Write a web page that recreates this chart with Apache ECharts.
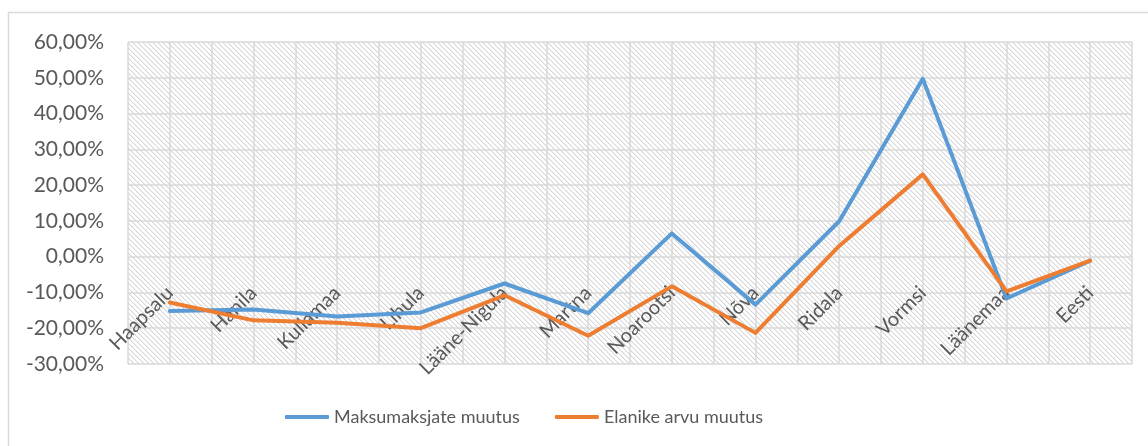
<!DOCTYPE html>
<html>
<head>
<meta charset="utf-8">
<script src="https://cdn.jsdelivr.net/npm/echarts@6/dist/echarts.min.js"></script>
<style>
html,body{margin:0;padding:0;background:#fff;}
#chart{width:1148px;height:446px;}
</style>
</head>
<body>
<div id="chart"></div>
<script>
var categories = ['Haapsalu','Hanila','Kullamaa','Lihula','Lääne-Nigula','Martna','Noarootsi','Nõva','Ridala','Vormsi','Läänemaa','Eesti'];
var maksumaksjad = [-15.2,-14.8,-16.7,-15.6,-7.5,-15.8,6.5,-13.4,9.9,49.7,-11.7,-1.1];
var elanikud = [-12.8,-17.8,-18.5,-20.0,-10.8,-22.1,-8.3,-21.3,3.0,23.0,-9.7,-1.1];
var seriesNames = ['Maksumaksjate muutus','Elanike arvu muutus'];
var yMin = -30, yMax = 60, yStep = 10;

// hatched pattern tile
var tile = document.createElement('canvas');
tile.width = 5; tile.height = 5;
var tc = tile.getContext('2d');
tc.fillStyle = '#ffffff';
tc.fillRect(0,0,5,5);
for (var i = 0; i < 5; i++) {
  tc.fillStyle = '#d6d6d6';
  tc.fillRect(i, i, 1, 1);
  tc.fillStyle = '#eeeeee';
  tc.fillRect((i+1)%5, i, 1, 1);
}

var font = 'Lato';
var textColor = '#595959';
var gridColor = '#d9d9d9';
var plotTop = 42, plotBottom = 364;
var zeroOffset = -(plotBottom - (plotTop + (plotBottom - plotTop) * (yMax - 0) / (yMax - yMin)));

var chart = echarts.init(document.getElementById('chart'), null, {renderer:'canvas'});
chart.setOption({
  animation: false,
  backgroundColor: '#ffffff',
  textStyle: {fontFamily: font},
  graphic: [{
    type: 'rect',
    shape: {x: 8.5, y: 12.5, width: 1300, height: 600},
    style: {fill: 'none', stroke: '#d9d9d9', lineWidth: 1.5},
    silent: true,
    z: -10
  }],
  grid: {
    left: 128, right: 16, top: plotTop, bottom: 446 - plotBottom,
    outerBoundsMode: 'none',
    containLabel: false,
    show: true,
    backgroundColor: {image: tile, repeat: 'repeat'},
    borderWidth: 0
  },
  legend: {
    data: seriesNames,
    left: 280, top: 403,
    icon: 'roundRect',
    itemWidth: 44, itemHeight: 4,
    itemGap: 35,
    textStyle: {fontFamily: font, fontSize: 18, color: textColor}
  },
  xAxis: [{
    type: 'category',
    data: categories,
    boundaryGap: true,
    offset: zeroOffset,
    axisLine: {show: false, onZero: false},
    axisTick: {show: false},
    splitLine: {show: false},
    axisLabel: {
      interval: 0, rotate: 45, margin: 33,
      fontFamily: font, fontSize: 20, color: textColor
    }
  }, {
    type: 'value',
    min: 0, max: 24, interval: 1,
    position: 'top',
    axisLine: {show: false}, axisTick: {show: false}, axisLabel: {show: false},
    splitLine: {show: true, lineStyle: {color: gridColor, width: 1.5}}
  }],
  yAxis: {
    type: 'value',
    min: yMin, max: yMax, interval: yStep,
    axisLine: {show: false},
    axisTick: {show: false},
    splitLine: {show: true, lineStyle: {color: gridColor, width: 1.5}},
    axisLabel: {
      margin: 24,
      fontFamily: font, fontSize: 21, color: textColor,
      formatter: function (v) { return v.toFixed(2).replace('.', ',') + '%'; }
    }
  },
  series: [{
    name: seriesNames[0],
    type: 'line',
    data: maksumaksjad,
    xAxisIndex: 0,
    symbol: 'none',
    itemStyle: {color: '#5B9BD5'},
    lineStyle: {color: '#5B9BD5', width: 4, cap: 'round', join: 'round'}
  }, {
    name: seriesNames[1],
    type: 'line',
    data: elanikud,
    xAxisIndex: 0,
    symbol: 'none',
    itemStyle: {color: '#ED7D31'},
    lineStyle: {color: '#ED7D31', width: 4, cap: 'round', join: 'round'}
  }]
});
</script>
</body>
</html>
